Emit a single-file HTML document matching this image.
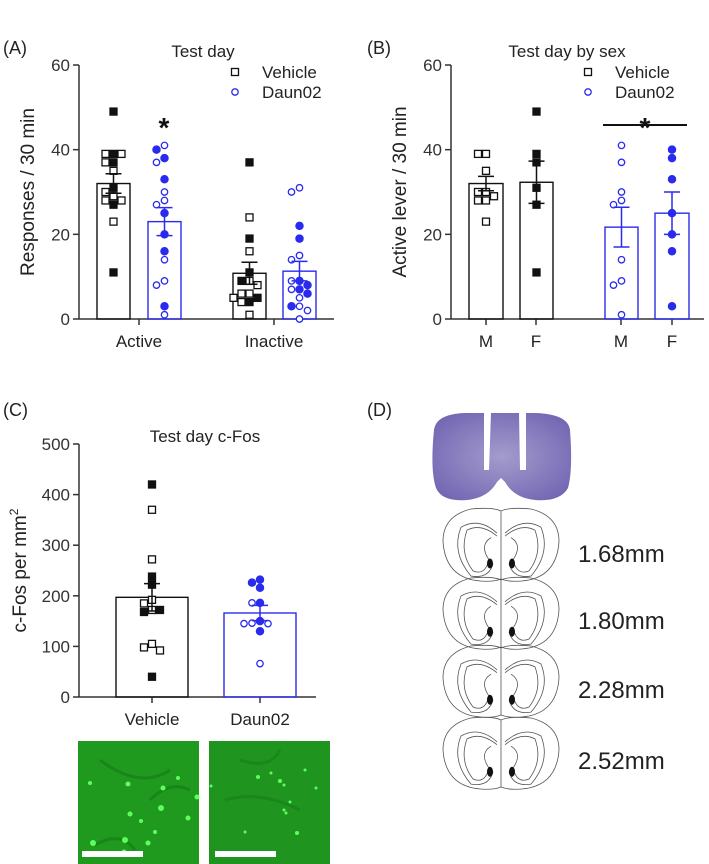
<!DOCTYPE html>
<html><head><meta charset="utf-8"><style>
body{margin:0;background:#fff;width:709px;height:864px;overflow:hidden}
svg{display:block;font-family:"Liberation Sans",Arial,sans-serif}
</style></head><body>
<svg id="fig" width="709" height="864" viewBox="0 0 709 864">
<defs>
<radialGradient id="gb" cx="50%" cy="50%" r="60%"><stop offset="0" stop-color="#a39ccc"/><stop offset="1" stop-color="#7468b4"/></radialGradient>
</defs>
<g fill="#222" font-size="18">
<text x="3" y="54">(A)</text>
<text x="367" y="54">(B)</text>
<text x="3" y="416">(C)</text>
<text x="367" y="416">(D)</text>
</g>
<g font-size="17" fill="#222" text-anchor="middle">
<text x="203" y="57">Test day</text>
<text x="567" y="57">Test day by sex</text>
<text x="205" y="442">Test day c-Fos</text>
</g>
<g id="chartA"></g>
<g id="chartB"></g>
<g id="chartC"></g>

<g>
<rect x="78" y="741" width="121" height="123" fill="#1f9a1f"/>
<path d="M100 760 Q140 790 170 770 M95 845 Q120 830 135 850 M150 800 Q170 780 190 790" stroke="#157a15" stroke-width="3" fill="none" opacity=".6"/>
<g fill="#5dff5d"><circle cx="128" cy="784" r="2.5"/><circle cx="163" cy="788" r="2.5"/><circle cx="161" cy="808" r="3"/><circle cx="130" cy="814" r="2.5"/><circle cx="93" cy="843" r="3"/><circle cx="125" cy="840" r="3"/><circle cx="124" cy="852" r="2.5"/><circle cx="148" cy="843" r="2.5"/><circle cx="155" cy="832" r="2"/><circle cx="188" cy="818" r="2.5"/><circle cx="197" cy="797" r="2.5"/><circle cx="90" cy="783" r="2"/><circle cx="178" cy="778" r="2"/><circle cx="141" cy="821" r="2"/></g>
<rect x="82" y="851" width="61" height="6" fill="#fff"/>
</g>
<g>
<rect x="209" y="741" width="121" height="123" fill="#1f951f"/>
<path d="M225 800 Q260 790 300 810 M240 760 Q270 770 280 750" stroke="#157a15" stroke-width="3" fill="none" opacity=".5"/>
<g fill="#5dff5d"><circle cx="258" cy="777" r="2"/><circle cx="280" cy="781" r="2"/><circle cx="284" cy="785" r="1.5"/><circle cx="290" cy="802" r="1.5"/><circle cx="284" cy="810" r="1.5"/><circle cx="286" cy="813" r="1.5"/><circle cx="271" cy="773" r="1.5"/><circle cx="211" cy="786" r="1.5"/><circle cx="245" cy="832" r="1.5"/><circle cx="297" cy="833" r="2"/><circle cx="316" cy="788" r="1.5"/><circle cx="305" cy="770" r="1.5"/></g>
<rect x="215" y="851" width="61" height="6" fill="#fff"/>
</g>

<g>
<path d="M434 430 Q436 414 465 413 L535 413 Q568 414 570 430 Q573 470 568 488 Q560 502 535 500 Q514 498 505 482 L501 478 L497 482 Q488 498 467 500 Q442 502 436 488 Q430 470 434 430Z" fill="url(#gb)"/>
<path d="M484 413 L491 413 L489 470 L484 470Z M519 413 L526 413 L526 470 L520 470Z" fill="#fff"/>
</g>
<g id="atlas" fill="none" stroke="#555" stroke-width="0.8"></g>
<g font-size="24" fill="#222">
<text x="578" y="562">1.68mm</text>
<text x="578" y="629">1.80mm</text>
<text x="578" y="698">2.28mm</text>
<text x="578" y="769">2.52mm</text>
</g>
</svg>
<script>
// ---- data ----
const catsA = ["Active","Inactive"];
const aVehVals = [49,39,39,39,37,37,35,31,30,29,28,28,27,23,11];
const aVehFill = [1,1,0,0,1,0,0,1,0,0,0,0,1,0,1];
const aDauVals = [41,40,38,37,33,30,28,27,25,20,16,14,9,8,3,1];
const aDauFill = [0,1,1,0,1,0,0,0,1,1,1,0,0,0,1,0];
const iVehVals = [37,24,19,16,11,9,9,8,6,6,5,5,4,4,1];
const iVehFill = [1,0,1,0,1,0,1,0,0,0,1,0,1,0,0];
const iDauVals = [31,30,22,19,15,14,9,9,8,7,7,6,5,3,3,2,0];
const iDauFill = [0,0,1,1,0,0,1,0,1,1,0,1,0,0,1,0,0];
const meansA = [32,23,10.8,11.3];
const semsA = [2.3,3.3,2.6,2.3];
const ticksA = [0,20,40,60];

const catsB = ["M","F","M","F"];
const bVM = [39,39,35,30,30,29,28,28,23];
const bVF = [49,39,37,31,27,11];
const bDM = [41,37,30,28,27,14,9,8,1];
const bDF = [40,38,33,25,20,16,3];
const meansB = [32,32.3,21.7,25];
const semsB = [1.7,5,4.7,5];
const ticksB = [0,20,40,60];

const catsC = ["Vehicle","Daun02"];
const cVehVals = [420,370,272,238,222,192,185,172,172,168,105,98,92,40];
const cVehFill = [1,0,0,1,1,0,0,0,1,1,0,0,0,1];
const cDauVals = [232,226,216,186,186,150,146,145,145,130,66];
const cDauFill = [1,1,1,1,0,1,0,0,0,1,0];
const meansC = [197,166];
const semsC = [27,15];
const ticksC = [0,100,200,300,400,500];

const NS="http://www.w3.org/2000/svg";
const BLUE="#2b2bee";
function mk(tag,attrs,parent){const e=document.createElementNS(NS,tag);for(const k in attrs)e.setAttribute(k,attrs[k]);parent.appendChild(e);return e;}

function chart(g,o){
  const y=v=>o.y0-(v-o.min)/(o.max-o.min)*(o.y0-o.y1);
  const ya=mk('line',{x1:o.ax,y1:o.y1,x2:o.ax,y2:o.y0,stroke:'#333','stroke-width':1.5},g);
  
  
  const xa=mk('line',{x1:o.ax,y1:o.y0,x2:o.axEnd,y2:o.y0,stroke:'#333','stroke-width':1.5},g);
  
  
  o.ticks.forEach(t=>{
    mk('line',{x1:o.ax-6,x2:o.ax,y1:y(t),y2:y(t),stroke:'#333','stroke-width':1.5},g);
    const tx=mk('text',{x:o.ax-9,y:y(t)+6,'text-anchor':'end','font-size':17,fill:'#333'},g);
    tx.textContent=t;
    
    
  });
  o.catTicks.forEach((cx,i)=>{
    mk('line',{x1:cx,x2:cx,y1:o.y0,y2:o.y0+6,stroke:'#333','stroke-width':1.5},g);
    const tx=mk('text',{x:cx,y:o.y0+28,'text-anchor':'middle','font-size':17,fill:'#222'},g);
    tx.textContent=o.cats[i];
    
    
  });
  const yt=mk('text',{x:0,y:0,'text-anchor':'middle','font-size':19,fill:'#222',transform:`translate(${o.ylx},${(o.y0+o.y1)/2}) rotate(-90)`},g);
  yt.innerHTML=o.ytitle;
  
  
  o.groups.forEach((gr,i)=>{
    const col=gr.blue?BLUE:'#111';
    const b=mk('rect',{x:gr.x,y:y(gr.mean),width:gr.w,height:o.y0-y(gr.mean),fill:'none',stroke:col,'stroke-width':1.4},g);
    
    
    const cx=gr.x+gr.w/2;
    const placed=[];
    const offs=[0,-8,8,-16,16,-24,24];
    gr.vals.forEach((v,j)=>{
      const py=y(v);let px=cx;
      for(const of of offs){const tx=cx+of;if(!placed.some(p=>Math.abs(p[0]-tx)<7.5&&Math.abs(p[1]-py)<7)){px=tx;break;}}
      placed.push([px,py]);
      const f=gr.fill?gr.fill[j]:gr.allFill;
      let m;
      if(gr.blue) m=mk('circle',{cx:px,cy:py,r:f?3.6:3.2,fill:f?col:'#fff',stroke:col,'stroke-width':1.3},g);
      else m=mk('rect',{x:px-3.5,y:py-3.5,width:7,height:7,fill:f?col:'#fff',stroke:col,'stroke-width':1.3},g);
      
      
    });
    const e1=y(gr.mean+gr.sem),e2=y(gr.mean-gr.sem);
    const eb=mk('path',{d:`M${cx} ${e1}V${e2}M${cx-8} ${e1}H${cx+8}M${cx-8} ${e2}H${cx+8}`,stroke:col,'stroke-width':1.5,fill:'none'},g);
    
    
  });
}
function legend(g,x,y){
  const s=mk('rect',{x:x-3.5,y:y-3.5,width:7,height:7,fill:'#fff',stroke:'#111','stroke-width':1.3},g);
  
  
  const t1=mk('text',{x:x+27,y:y+6,'font-size':17,fill:'#222'},g);t1.textContent='Vehicle';
  
  
  const c=mk('circle',{cx:x,cy:y+20,r:3.2,fill:'#fff',stroke:BLUE,'stroke-width':1.3},g);
  
  
  const t2=mk('text',{x:x+27,y:y+26,'font-size':17,fill:'#222'},g);t2.textContent='Daun02';
  
  
}
const gA=document.getElementById('chartA');
chart(gA,{min:0,max:60,y0:319,y1:65,ax:79,axEnd:334,ticks:ticksA,cats:catsA,catTicks:[139,274],ylx:34,ytitle:'Responses / 30 min',
 groups:[{name:'active-vehicle',x:97,w:33,mean:meansA[0],sem:semsA[0],vals:aVehVals,fill:aVehFill},
 {name:'active-daun02',x:148,w:33,mean:meansA[1],sem:semsA[1],vals:aDauVals,fill:aDauFill,blue:1},
 {name:'inactive-vehicle',x:233,w:33,mean:meansA[2],sem:semsA[2],vals:iVehVals,fill:iVehFill},
 {name:'inactive-daun02',x:283,w:33,mean:meansA[3],sem:semsA[3],vals:iDauVals,fill:iDauFill,blue:1}]});
legend(gA,235,72);
const st=mk('text',{x:164,y:137,'text-anchor':'middle','font-size':28,'font-weight':'bold',fill:'#111'},gA);st.textContent='*';



const gB=document.getElementById('chartB');
chart(gB,{min:0,max:60,y0:319,y1:65,ax:451,axEnd:704,ticks:ticksB,cats:catsB,catTicks:[486,536,621,672],ylx:406,ytitle:'Active lever / 30 min',
 groups:[{name:'vehicle-m',x:469,w:34,mean:meansB[0],sem:semsB[0],vals:bVM,allFill:0},
 {name:'vehicle-f',x:520,w:33,mean:meansB[1],sem:semsB[1],vals:bVF,allFill:1},
 {name:'daun02-m',x:605,w:33,mean:meansB[2],sem:semsB[2],vals:bDM,allFill:0,blue:1},
 {name:'daun02-f',x:655,w:34,mean:meansB[3],sem:semsB[3],vals:bDF,allFill:1,blue:1}]});
legend(gB,588,72);
const sl=mk('line',{x1:603,x2:687,y1:125,y2:125,stroke:'#111','stroke-width':2},gB);


const sb=mk('text',{x:645,y:137,'text-anchor':'middle','font-size':28,'font-weight':'bold',fill:'#111'},gB);sb.textContent='*';



const gC=document.getElementById('chartC');
chart(gC,{min:0,max:500,y0:697,y1:444,ax:79,axEnd:316,ticks:ticksC,cats:catsC,catTicks:[152,260],ylx:26,ytitle:'c-Fos per mm<tspan dy="-8" font-size="12">2</tspan>',
 groups:[{name:'cfos-vehicle',x:116,w:72,mean:meansC[0],sem:semsC[0],vals:cVehVals,fill:cVehFill},
 {name:'cfos-daun02',x:224,w:72,mean:meansC[1],sem:semsC[1],vals:cDauVals,fill:cDauFill,blue:1}]});

const atl=document.getElementById('atlas');
[[508,582],[577,650],[645,718],[717,790]].forEach((s,i)=>{
  const t=s[0],b=s[1],h=b-t,cx=501;
  const sec=mk('g',{},atl);
  
  
  mk('path',{d:`M${cx} ${t+3} Q${cx-8} ${t-1} ${cx-30} ${t+1} Q${cx-58} ${t+8} ${cx-58} ${t+h*0.45} Q${cx-56} ${b-8} ${cx-28} ${b-2} Q${cx-10} ${b+1} ${cx} ${b-3} Q${cx+10} ${b+1} ${cx+28} ${b-2} Q${cx+56} ${b-8} ${cx+58} ${t+h*0.45} Q${cx+58} ${t+8} ${cx+30} ${t+1} Q${cx+8} ${t-1} ${cx} ${t+3}Z M${cx} ${t+3}V${b-3}`},sec);
  [-1,1].forEach(d=>{
    mk('path',{d:`M${cx+d*4} ${t+h*0.38} Q${cx+d*20} ${t+h*0.2} ${cx+d*34} ${t+h*0.3} Q${cx+d*42} ${t+h*0.6} ${cx+d*28} ${t+h*0.85} Q${cx+d*16} ${t+h*0.92} ${cx+d*12} ${t+h*0.7} Q${cx+d*22} ${t+h*0.5} ${cx+d*10} ${t+h*0.4}`},sec);
    mk('path',{d:`M${cx+d*4} ${t+h*0.34} Q${cx+d*22} ${t+h*0.12} ${cx+d*40} ${t+h*0.26} Q${cx+d*50} ${t+h*0.6} ${cx+d*30} ${t+h*0.92} Q${cx+d*12} ${t+h*0.96} ${cx+d*8} ${t+h*0.75}`},sec);
    mk('ellipse',{cx:cx+d*11,cy:t+h*0.75,rx:3,ry:5,fill:'#111',stroke:'none'},sec);
  });
});
</script>
</body></html>
